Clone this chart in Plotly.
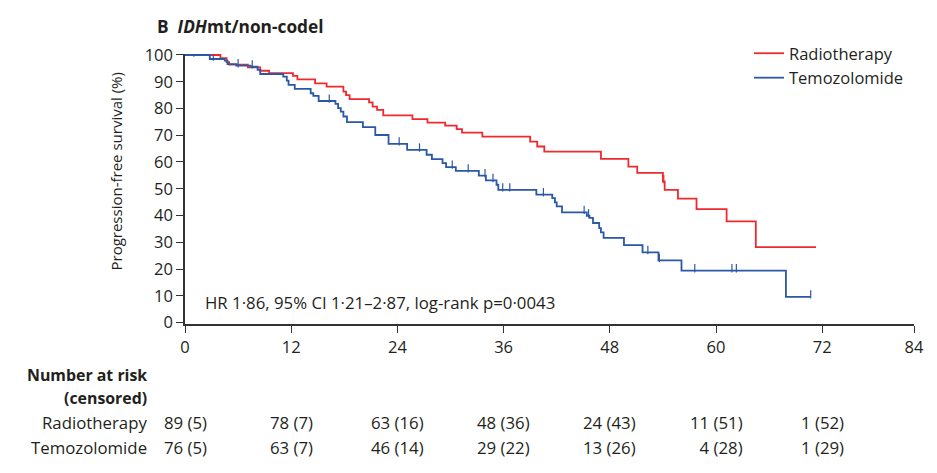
import numpy as np
import plotly.graph_objects as go

# ---------------- data ----------------
rt_times = [0, 4.0, 4.7, 5.0, 7.1, 8.5, 9.5, 12.2, 12.7, 14.7, 16.0, 17.9, 18.2, 18.6,
            20.8, 21.2, 21.7, 22.4, 25.7, 27.4, 29.4, 30.7, 31.3, 33.6, 39.0, 39.8,
            40.6, 47.0, 50.1, 51.1, 54.0, 54.2, 55.7, 57.8, 61.2, 64.5, 71.3]
rt_surv = [100, 98.8, 97.3, 96.4, 95.4, 94.1, 93.2, 92.2, 90.9, 89.4, 88.2, 86.3, 85.0, 83.5,
           82.3, 80.7, 79.5, 77.4, 76.0, 74.7, 73.6, 72.3, 71.0, 69.5, 67.6, 65.8,
           63.9, 61.2, 58.3, 55.9, 52.7, 49.6, 46.3, 42.4, 37.8, 28.2, 28.2]
rt_censor = [54.1]

tmz_times = [0, 2.8, 4.5, 4.8, 5.8, 7.4, 8.2, 8.5, 11.1, 11.5, 11.7, 12.4, 14.2, 14.5,
             15.1, 17.0, 17.3, 17.6, 17.9, 18.3, 20.1, 21.5, 23.0, 25.1, 27.3, 27.9,
             29.1, 29.5, 30.6, 33.2, 34.0, 35.2, 35.4, 39.7, 41.5, 41.8, 42.0, 42.6,
             45.4, 45.7, 46.1, 46.8, 47.0, 47.3, 49.6, 51.7, 53.5, 56.1, 67.9, 70.7]
tmz_surv = [100, 98.5, 97.9, 96.6, 96.0, 95.6, 94.4, 92.9, 91.9, 90.4, 88.8, 87.3, 85.7, 84.7,
            82.8, 81.7, 80.1, 78.8, 77.0, 74.9, 73.0, 70.1, 66.8, 64.5, 62.7, 61.1,
            59.6, 58.1, 56.7, 54.9, 53.1, 51.5, 49.6, 47.8, 46.5, 44.9, 43.4, 41.2,
            39.9, 39.1, 37.2, 35.3, 33.7, 31.6, 28.9, 26.2, 23.2, 19.4, 9.6, 9.6]
tmz_censor = [1.0, 3.2, 6.0, 7.6, 16.3, 24.2, 26.5, 30.2, 32.0, 33.9, 34.8, 35.9, 36.7,
              40.5, 45.1, 45.6, 52.3, 53.6, 57.6, 61.8, 62.3, 70.7]

risk_times = [0, 12, 24, 36, 48, 60, 72]
rt_risk = ["89 (5)", "78 (7)", "63 (16)", "48 (36)", "24 (43)", "11 (51)", "1 (52)"]
tmz_risk = ["76 (5)", "63 (7)", "46 (14)", "29 (22)", "13 (26)", "\u20074 (28)", "1 (29)"]

x_tick_labels = ["0", "12", "24", "36", "48", "60", "72", "84"]
y_tick_vals = list(range(0, 101, 10))

arm_names = ["Radiotherapy", "Temozolomide"]
hr_text = "HR 1·86, 95% CI 1·21–2·87, log-rank p=0·0043"

# ---------------- styling ----------------
RED = "#ee2a2f"
BLUE = "#2a58a6"
TXT = "#231f20"
AX = "#333333"
FONT = "Open Sans, Lato, DejaVu Sans, sans-serif"
FS = 16.8

W, H = 937, 473
ML, MR, MT, MB = 185, 23, 54, 149
PW, PH = W - ML - MR, H - MT - MB
X_MAX = PW / 8.85            # axis scale of the reference (8.85 px per month)
Y_RANGE = [-0.56, 100.37]


def px_x(p):
    return (p - ML) / PW


def px_y(p):
    return (H - MB - p) / PH


def km_at(times, surv, t):
    i = np.searchsorted(np.asarray(times), t, side="right") - 1
    return surv[max(i, 0)]


fig = go.Figure()
for name, times, surv, cens, col in [
    (arm_names[0], rt_times, rt_surv, rt_censor, RED),
    (arm_names[1], tmz_times, tmz_surv, tmz_censor, BLUE),
]:
    fig.add_trace(go.Scatter(x=times, y=surv, mode="lines", line=dict(color=col, width=1.8, shape="hv"),
                             name=name, legendgroup=name))
    fig.add_trace(go.Scatter(x=cens, y=[km_at(times, surv, c) + 0.9 for c in cens], mode="markers",
                             marker=dict(symbol="line-ns", size=6, line=dict(color=col, width=1.2)),
                             showlegend=False, legendgroup=name, hoverinfo="skip"))

tickvals_x = risk_times + [X_MAX]
fig.update_xaxes(range=[0, X_MAX], tickvals=tickvals_x, ticktext=x_tick_labels,
                 showline=True, linecolor=AX, linewidth=1.5, ticks="outside", ticklen=7,
                 tickwidth=1.4, tickcolor=AX, showgrid=False, zeroline=False,
                 tickfont=dict(size=16.5, color=TXT, family=FONT))
fig.update_yaxes(range=Y_RANGE, tickvals=y_tick_vals, showline=True, linecolor=AX, linewidth=1.5,
                 ticks="outside", ticklen=7, tickwidth=1.4, tickcolor=AX, showgrid=False,
                 zeroline=False, tickfont=dict(size=16.5, color=TXT, family=FONT))

ann = []
ann.append(dict(text="<b>B</b>  <b><i>IDH</i>mt/non-codel</b>", x=px_x(155), y=px_y(27),
                xref="paper", yref="paper", xanchor="left", yanchor="middle", showarrow=False,
                font=dict(size=17.3, color=TXT, family=FONT)))
ann.append(dict(text="Progression-free survival (%)", x=px_x(115.5), y=px_y(172), textangle=-90,
                xref="paper", yref="paper", xanchor="center", yanchor="middle", showarrow=False,
                font=dict(size=15, color=TXT, family=FONT)))
ann.append(dict(text=hr_text, x=px_x(203), y=px_y(302), xref="paper", yref="paper",
                xanchor="left", yanchor="middle", showarrow=False,
                font=dict(size=FS, color=TXT, family=FONT)))
for txt, yy, fs in [("<b>Number at risk</b>", 375, 15.9), ("<b>(censored)</b>", 398, 15.9),
                    (arm_names[0], 422, FS), (arm_names[1], 447, FS)]:
    ann.append(dict(text=txt, x=px_x(149), y=px_y(yy), xref="paper", yref="paper",
                    xanchor="right", yanchor="middle", showarrow=False,
                    font=dict(size=fs, color=TXT, family=FONT)))
for row, yy in [(rt_risk, 422), (tmz_risk, 447)]:
    for t, txt in zip(risk_times, row):
        ann.append(dict(text=txt, x=t, y=px_y(yy), xref="x", yref="paper",
                        xanchor="center", yanchor="middle", showarrow=False,
                        font=dict(size=FS, color=TXT, family=FONT)))

fig.update_layout(
    width=W, height=H, margin=dict(l=ML, r=MR, t=MT, b=MB),
    paper_bgcolor="white", plot_bgcolor="white",
    annotations=ann,
    legend=dict(x=px_x(749), y=px_y(36), xanchor="left", yanchor="top",
                font=dict(size=16.5, color=TXT, family=FONT), bgcolor="rgba(0,0,0,0)",
                tracegroupgap=0, itemwidth=30),
    showlegend=True,
)

fig.write_html("out.html", config={"displayModeBar": False},
               post_script="document.body.style.margin='0';document.body.style.overflow='hidden';")
